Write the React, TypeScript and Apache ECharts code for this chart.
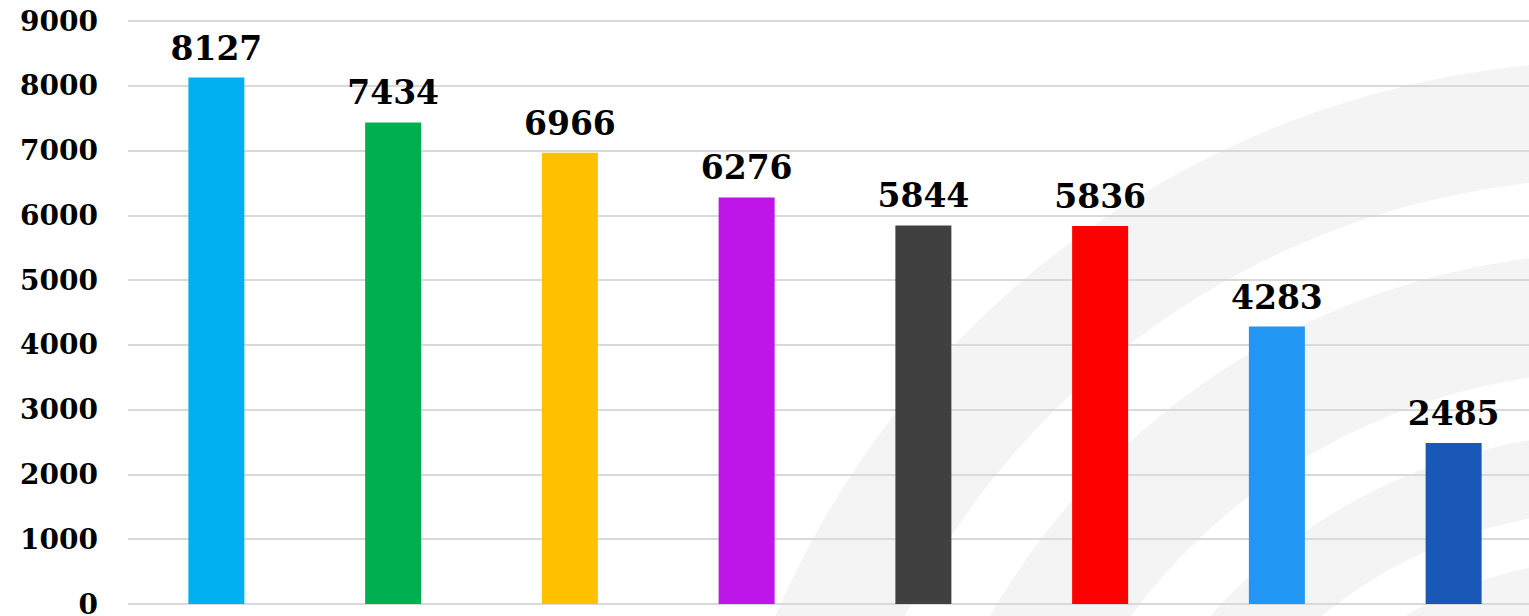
import React, { useEffect, useRef } from "react";
import * as echarts from "echarts";

const categories = ["Item 1", "Item 2", "Item 3", "Item 4", "Item 5", "Item 6", "Item 7", "Item 8"];
const values = [8127, 7434, 6966, 6276, 5844, 5836, 4283, 2485];
const barColors = ["#00B0F0", "#00B050", "#FFC000", "#BE15E8", "#404040", "#FF0000", "#2196F3", "#1A58B8"];
const yMin = 0;
const yMax = 9000;
const yInterval = 1000;

const FONT = "'DejaVu Serif', 'Liberation Serif', serif";

export default function App() {
  const ref = useRef<HTMLDivElement>(null);

  useEffect(() => {
    if (!ref.current) return;
    const chart = echarts.init(ref.current, null, { renderer: "svg" });

    const cx = 1618;
    const cy = 978;
    const bands = [
      [800, 917],
      [607, 725],
      [468, 545],
      [340, 420],
    ];

    chart.setOption({
      animation: false,
      backgroundColor: "#ffffff",
      graphic: bands.map(([r0, r]) => ({
        type: "ring",
        z: -10,
        silent: true,
        shape: { cx, cy, r, r0 },
        style: { fill: "#f4f4f4" },
      })),
      grid: {
        left: 128,
        right: -13,
        top: 21,
        bottom: 12,
        containLabel: false,
        outerBoundsMode: "none",
      },
      xAxis: {
        type: "category",
        data: categories,
        axisLine: { show: false },
        axisTick: { show: false },
        axisLabel: { show: false },
        splitLine: { show: false },
      },
      yAxis: {
        type: "value",
        min: yMin,
        max: yMax,
        interval: yInterval,
        axisLine: { show: false },
        axisTick: { show: false },
        axisLabel: {
          fontFamily: FONT,
          fontWeight: "bold",
          fontSize: 28,
          lineHeight: 22,
          color: "#000000",
          margin: 30,
          formatter: (v: number) => String(v),
        },
        splitLine: { lineStyle: { color: "#d9d9d9", width: 2 } },
      },
      series: [
        {
          type: "bar",
          barWidth: 56,
          data: values.map((v, i) => ({ value: v, itemStyle: { color: barColors[i] } })),
          label: {
            show: true,
            position: "top",
            distance: 13,
            fontFamily: FONT,
            fontWeight: "bold",
            fontSize: 33,
            color: "#000000",
            formatter: (p: any) => String(p.value),
          },
        },
      ],
    });

    return () => chart.dispose();
  }, []);

  return (
    <div
      ref={ref}
      style={{ position: "absolute", left: 0, top: 0, width: 1529, height: 616, background: "#ffffff" }}
    />
  );
}
